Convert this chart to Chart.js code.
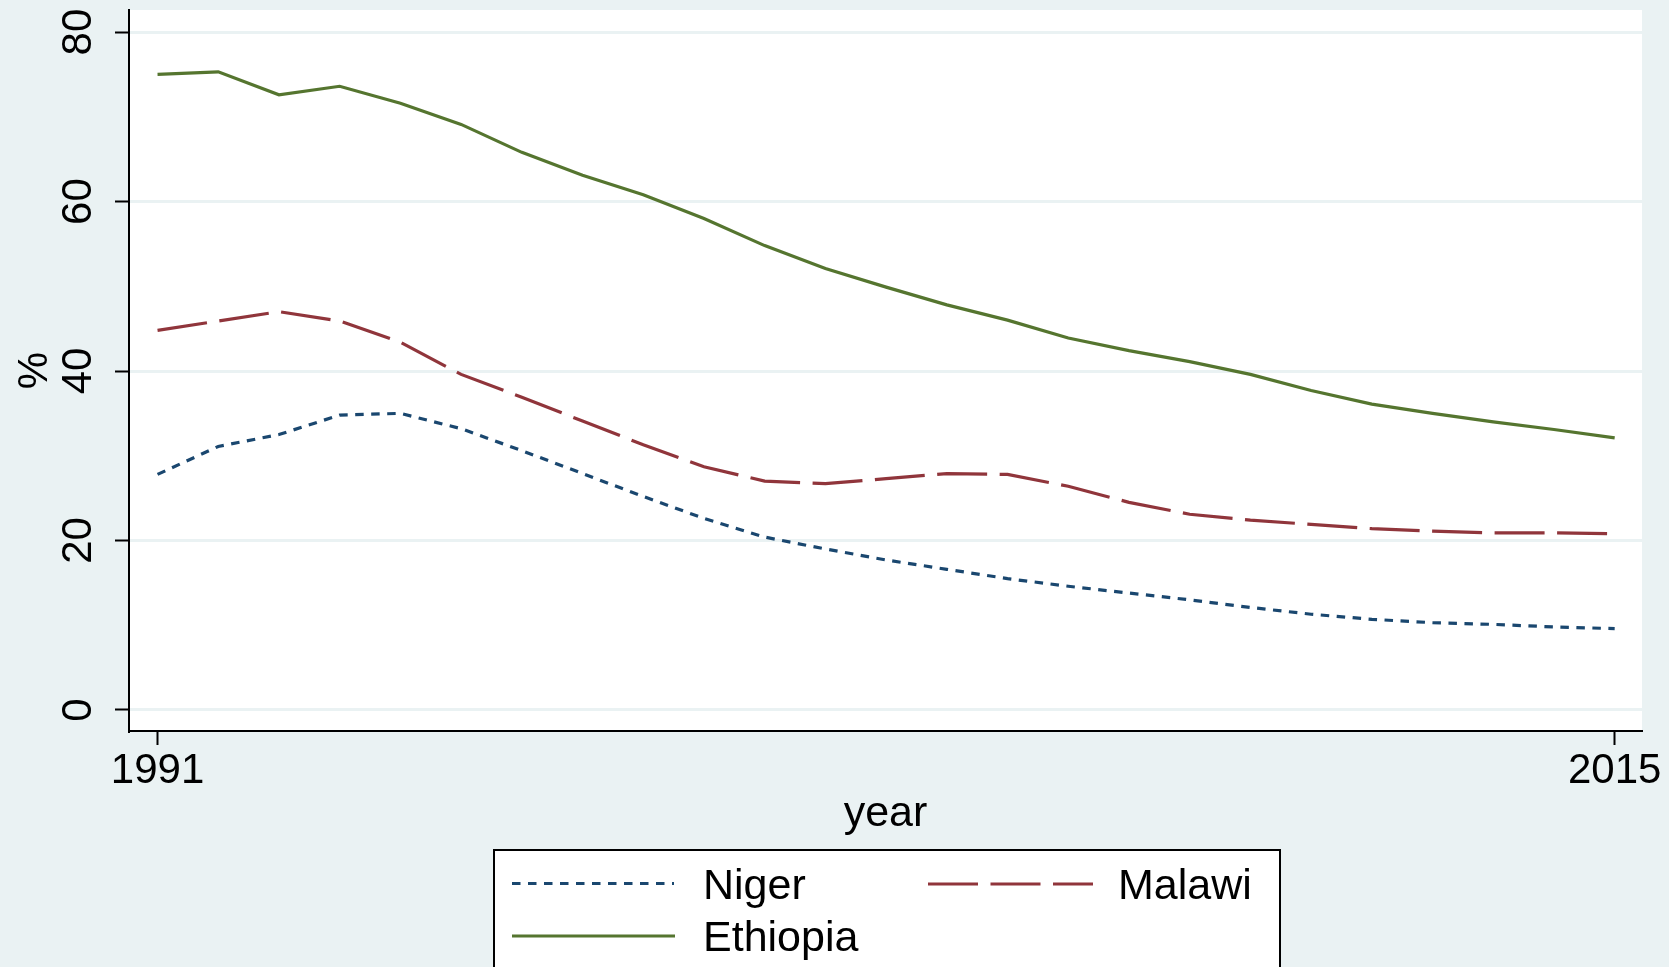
<!DOCTYPE html>
<html>
<head>
<meta charset="utf-8">
<script src="https://cdn.jsdelivr.net/npm/chart.js@4"></script>
<style>
  html, body { margin:0; padding:0; background:#EAF2F3; }
  #wrap { width:1669px; height:967px; }
</style>
</head>
<body>
<div id="wrap"><canvas id="c" width="1669" height="967"></canvas></div>
<script>
// ── data ──────────────────────────────────────────────────────
const years    = [1991,1992,1993,1994,1995,1996,1997,1998,1999,2000,2001,2002,2003,
                  2004,2005,2006,2007,2008,2009,2010,2011,2012,2013,2014,2015];
const niger    = [27.8,31.1,32.5,34.8,35.0,33.2,30.6,27.9,25.2,22.6,20.4,19.0,17.7,
                  16.6,15.5,14.6,13.8,13.0,12.1,11.3,10.7,10.3,10.1,9.8,9.6];
const malawi   = [44.8,45.9,47.0,45.9,43.4,39.6,36.9,34.1,31.3,28.7,27.0,26.7,27.3,
                  27.9,27.8,26.4,24.5,23.1,22.4,21.9,21.4,21.1,20.9,20.9,20.8];
const ethiopia = [75.0,75.3,72.6,73.6,71.6,69.1,65.8,63.1,60.8,58.0,54.8,52.1,49.9,
                  47.8,46.0,43.9,42.4,41.1,39.6,37.7,36.1,35.0,34.0,33.1,32.1];
const yTicks   = [0,20,40,60,80];
const xTicks   = [1991,2015];
const seriesNames = ['Niger','Malawi','Ethiopia'];

const FONT = '"Liberation Sans", Arial, Helvetica, sans-serif';
const BG = '#EAF2F3';

const pts = vals => vals.map((v,i) => ({ x: years[i], y: v }));

// fondo gris-azulado + región blanca del gráfico
const fondo = {
  id: 'fondo',
  beforeDraw(chart) {
    const { ctx, chartArea: a } = chart;
    ctx.save();
    ctx.fillStyle = BG;
    ctx.fillRect(0, 0, chart.width, chart.height);
    ctx.fillStyle = '#fff';
    ctx.fillRect(a.left, a.top, a.right - a.left, a.bottom - a.top);
    ctx.restore();
  }
};

// etiquetas, títulos y leyenda estilo Stata
const textos = {
  id: 'textos',
  afterDraw(chart) {
    const { ctx, scales: { x, y } } = chart;
    ctx.save();
    ctx.fillStyle = '#000';

    // x tick labels
    ctx.font = '42px ' + FONT;
    ctx.textAlign = 'center';
    ctx.textBaseline = 'alphabetic';
    xTicks.forEach(t => ctx.fillText(String(t), x.getPixelForValue(t), 783));

    // y tick labels (rotadas)
    yTicks.forEach(t => {
      ctx.save();
      ctx.translate(91, y.getPixelForValue(t));
      ctx.rotate(-Math.PI / 2);
      ctx.fillText(String(t), 0, 0);
      ctx.restore();
    });

    // axis titles
    ctx.save();
    ctx.translate(47, (chart.chartArea.top + chart.chartArea.bottom) / 2);
    ctx.rotate(-Math.PI / 2);
    ctx.fillText('%', 0, 0);
    ctx.restore();
    ctx.font = '43px ' + FONT;
    ctx.fillText('year', (chart.chartArea.left + chart.chartArea.right) / 2, 826);

    // legend box
    ctx.fillStyle = '#fff';
    ctx.fillRect(494, 850, 786, 200);
    ctx.strokeStyle = '#000';
    ctx.lineWidth = 2;
    ctx.strokeRect(494, 850, 786, 200);

    const ds = chart.data.datasets;
    const items = [
      { d: ds[0], x0: 512, x1: 674, ly: 883.5, tx: 703, ty: 899 },
      { d: ds[1], x0: 928, x1: 1093, ly: 884, tx: 1118, ty: 899 },
      { d: ds[2], x0: 512, x1: 675, ly: 936, tx: 703, ty: 951 }
    ];
    ctx.font = '43px ' + FONT;
    ctx.textAlign = 'left';
    items.forEach(it => {
      ctx.beginPath();
      ctx.setLineDash(it.d.borderDash || []);
      ctx.strokeStyle = it.d.borderColor;
      ctx.lineWidth = it.d.borderWidth;
      ctx.moveTo(it.x0, it.ly);
      ctx.lineTo(it.x1, it.ly);
      ctx.stroke();
      ctx.setLineDash([]);
      ctx.fillStyle = '#000';
      ctx.fillText(it.d.label, it.tx, it.ty);
    });
    ctx.restore();
  }
};

new Chart(document.getElementById('c'), {
  type: 'line',
  data: {
    datasets: [
      { label: seriesNames[0], data: pts(niger), borderColor: '#1A476F', borderWidth: 3.2,
        borderDash: [8.5, 7.5], pointRadius: 0, tension: 0 },
      { label: seriesNames[1], data: pts(malawi), borderColor: '#90353B', borderWidth: 3.2,
        borderDash: [50, 12.5], pointRadius: 0, tension: 0 },
      { label: seriesNames[2], data: pts(ethiopia), borderColor: '#55752F', borderWidth: 3.2,
        pointRadius: 0, tension: 0 }
    ]
  },
  options: {
    responsive: false,
    animation: false,
    devicePixelRatio: 1,
    layout: { padding: { left: 0, top: 10, right: 27, bottom: 0 } },
    plugins: { legend: { display: false }, tooltip: { enabled: false } },
    scales: {
      x: {
        type: 'linear', min: 1990.53, max: 2015.45,
        afterBuildTicks: s => { s.ticks = xTicks.map(v => ({ value: v })); },
        afterFit: s => { s.height = 236; },
        ticks: { display: false },
        grid: { drawOnChartArea: false, drawTicks: true, tickLength: 14, tickWidth: 2, tickColor: '#000' },
        border: { color: '#000', width: 2 }
      },
      y: {
        min: -2.48, max: 82.6,
        afterBuildTicks: s => { s.ticks = yTicks.map(v => ({ value: v })); },
        afterFit: s => { s.width = 129; },
        ticks: { display: false },
        grid: { color: BG, lineWidth: 3, drawTicks: true, tickLength: 14, tickWidth: 2, tickColor: '#000' },
        border: { color: '#000', width: 2 }
      }
    }
  },
  plugins: [fondo, textos]
});
</script>
</body>
</html>
